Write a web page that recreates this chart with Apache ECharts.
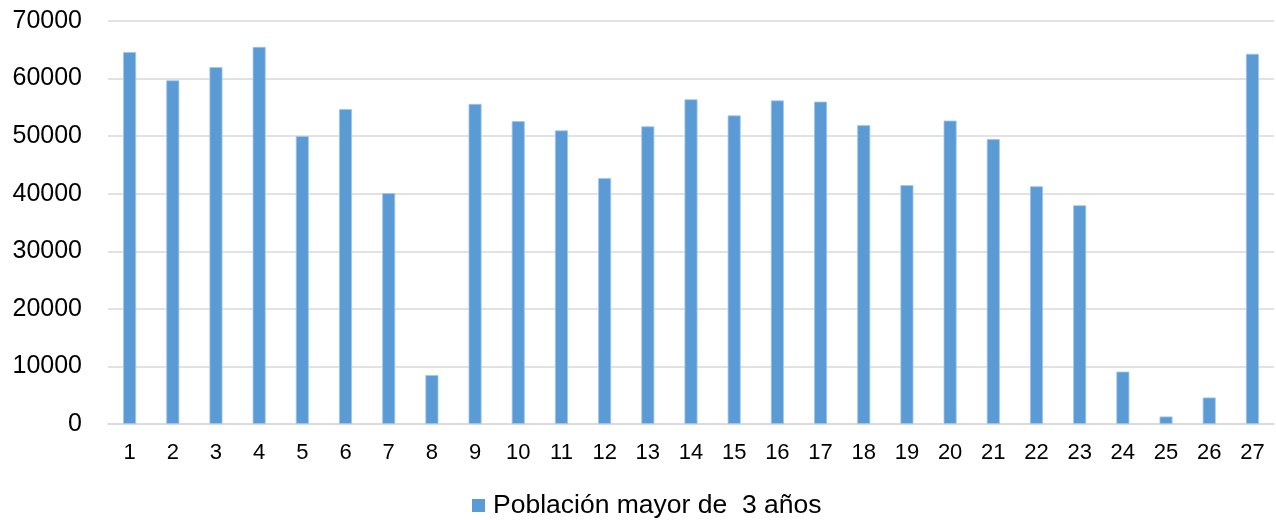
<!DOCTYPE html>
<html>
<head>
<meta charset="utf-8">
<script src="https://cdn.jsdelivr.net/npm/echarts@6/dist/echarts.min.js"></script>
<style>
html,body{margin:0;padding:0;background:#fff;}
#chart{width:1276px;height:520px;}
</style>
</head>
<body>
<div id="chart"></div>
<script>
const categories = ['1','2','3','4','5','6','7','8','9','10','11','12','13','14','15','16','17','18','19','20','21','22','23','24','25','26','27'];
const seriesName = 'Población mayor de  3 años';
const values = [64600, 59700, 62000, 65500, 50000, 54700, 40100, 8500, 55600, 52600, 51000, 42700, 51700, 56400, 53600, 56200, 56000, 51900, 41500, 52700, 49500, 41300, 38000, 9100, 1300, 4600, 64300];
const yTicks = { min: 0, max: 70000, interval: 10000 };

const chart = echarts.init(document.getElementById('chart'));
chart.setOption({
  animation: false,
  textStyle: { fontFamily: 'Liberation Sans, Arial, sans-serif' },
  grid: { left: 108, right: 2, top: 21, bottom: 96 },
  legend: {
    data: [seriesName],
    top: 492,
    left: 472,
    padding: 0,
    itemWidth: 13,
    itemHeight: 13,
    itemGap: 6,
    icon: 'rect',
    itemStyle: { borderWidth: 0 },
    textStyle: { fontSize: 26.5, color: '#000', fontFamily: 'Liberation Sans, Arial, sans-serif', padding: [0, 0, 0, 3] }
  },
  xAxis: {
    type: 'category',
    data: categories,
    axisLine: { lineStyle: { color: '#d9d9d9', width: 1.5 } },
    axisTick: { show: false },
    axisLabel: { fontSize: 22, color: '#000', margin: 18 }
  },
  yAxis: {
    type: 'value',
    min: yTicks.min,
    max: yTicks.max,
    interval: yTicks.interval,
    axisLine: { show: false },
    axisTick: { show: false },
    splitLine: { lineStyle: { color: '#d9d9d9', width: 1.5 } },
    axisLabel: { fontSize: 25, color: '#000', margin: 26, formatter: function (v) { return String(v); } }
  },
  series: [{
    name: seriesName,
    type: 'bar',
    data: values,
    barWidth: 13,
    itemStyle: { color: '#5b9bd5', borderColor: '#a4c6e9', borderWidth: 0.8 }
  }]
});
</script>
</body>
</html>
